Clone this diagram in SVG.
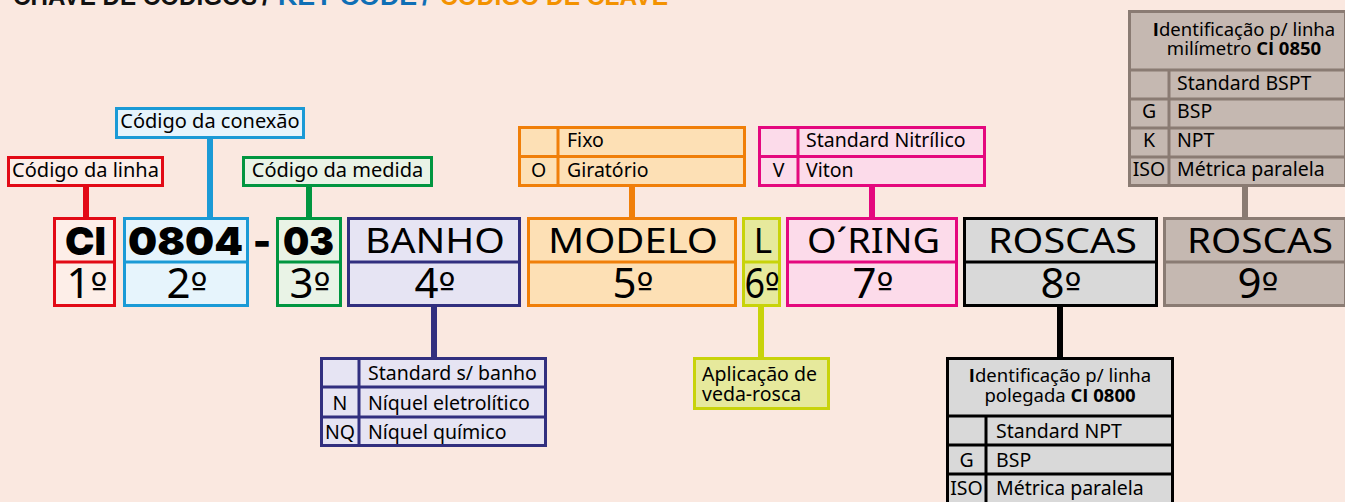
<svg xmlns="http://www.w3.org/2000/svg" width="1345" height="502" viewBox="0 0 1345 502">
<style>
.sm{font-family:"Noto Sans","Open Sans",sans-serif;font-size:19.5px;fill:#000}
.hd{font-family:"Noto Sans","Open Sans",sans-serif;font-size:18.5px;fill:#000}
.lb{font-family:"Noto Sans","Open Sans",sans-serif;font-size:20px;fill:#000}
.big{font-family:"Noto Sans","Open Sans",sans-serif;font-size:35px;fill:#000}
.num{font-family:"Noto Sans","Open Sans",sans-serif;font-size:42px;fill:#000}
.o{font-family:"DejaVu Sans","Liberation Sans",sans-serif;font-size:36px}
.hv{font-family:Inter,Lato,"Open Sans",sans-serif;font-weight:900;font-size:39px;fill:#000}
.ttl{font-family:"Liberation Sans",Arial,sans-serif;font-weight:bold;font-size:26px}
.c{text-anchor:middle}
.b{font-family:"Open Sans","Noto Sans",sans-serif;font-weight:bold}
rect,line{stroke-width:3}
.red{stroke:#e20a16}.blu{stroke:#1a9ad6}.grn{stroke:#009640}.pur{stroke:#312f7f}.org{stroke:#f07f09}.lim{stroke:#c8d30a}.mag{stroke:#e4087e}.blk{stroke:#000}.brn{stroke:#8a7b73}
.con line{stroke-width:6}
</style>
<rect x="0" y="0" width="1345" height="502" fill="#fae8e0" stroke="none"/>

<g id="title">
<text class="ttl" x="13" y="5" fill="#111" textLength="244" lengthAdjust="spacingAndGlyphs">CHAVE DE CÓDIGOS</text>
<text class="ttl" x="262" y="5" fill="#111">/</text>
<text class="ttl" x="278" y="5" fill="#0f6fb5" textLength="139" lengthAdjust="spacingAndGlyphs">KEY CODE</text>
<text class="ttl" x="422" y="5" fill="#0f6fb5">/</text>
<text class="ttl" x="440" y="5" fill="#f39200" textLength="228" lengthAdjust="spacingAndGlyphs">CÓDIGO DE CLAVE</text>
</g>

<g id="connectors" class="con">
<line class="red" x1="86" y1="187" x2="86" y2="217"/>
<line class="blu" x1="210" y1="139" x2="210" y2="217"/>
<line class="grn" x1="309" y1="187" x2="309" y2="217"/>
<line class="org" x1="632" y1="187" x2="632" y2="217"/>
<line class="mag" x1="872" y1="187" x2="872" y2="217"/>
<line class="brn" x1="1245" y1="187" x2="1245" y2="217"/>
<line class="pur" x1="434" y1="307" x2="434" y2="357"/>
<line class="lim" x1="761" y1="307" x2="761" y2="357"/>
<line class="blk" x1="1060" y1="307" x2="1060" y2="357"/>
</g>

<g id="label-linha">
<rect class="red" x="8.5" y="157.5" width="154" height="28" fill="#fdeee8"/>
<text class="lb c" x="85.5" y="177">Código da linha</text>
</g>
<g id="label-conexao">
<rect class="blu" x="116.5" y="108.5" width="187" height="29" fill="#e6f4fc"/>
<text class="lb c" x="210" y="128">Código da conexão</text>
</g>
<g id="label-medida">
<rect class="grn" x="243.5" y="157.5" width="188" height="28" fill="#e9f3e6"/>
<text class="lb c" x="337.5" y="177">Código da medida</text>
</g>

<g id="box-ci">
<rect class="red" x="54.5" y="218.5" width="60" height="87" fill="#fdeee8"/>
<line class="red" x1="54.5" y1="262" x2="114.5" y2="262"/>
<text class="hv c" x="85.5" y="255" textLength="41" lengthAdjust="spacingAndGlyphs">CI</text>
<text class="num c" x="87" y="298">1<tspan class="o">º</tspan></text>
</g>
<g id="box-conexao">
<rect class="blu" x="124.5" y="218.5" width="123" height="87" fill="#e6f4fc"/>
<line class="blu" x1="124.5" y1="262" x2="247.5" y2="262"/>
<text class="hv c" x="185.5" y="255" textLength="115" lengthAdjust="spacingAndGlyphs">0804</text>
<text class="num c" x="187" y="298">2<tspan class="o">º</tspan></text>
</g>
<text id="dash" class="hv c" x="262" y="255">-</text>
<g id="box-medida">
<rect class="grn" x="277.5" y="218.5" width="63" height="87" fill="#e9f3e6"/>
<line class="grn" x1="277.5" y1="262" x2="340.5" y2="262"/>
<text class="hv c" x="308.5" y="255" textLength="51" lengthAdjust="spacingAndGlyphs">03</text>
<text class="num c" x="310" y="298">3<tspan class="o">º</tspan></text>
</g>
<g id="box-banho">
<rect class="pur" x="348.5" y="218.5" width="171" height="87" fill="#e6e4f3"/>
<line class="pur" x1="348.5" y1="262" x2="519.5" y2="262"/>
<text class="big c" x="435" y="253" textLength="140" lengthAdjust="spacingAndGlyphs">BANHO</text>
<text class="num c" x="435" y="298">4<tspan class="o">º</tspan></text>
</g>
<g id="box-modelo">
<rect class="org" x="528.5" y="218.5" width="207" height="87" fill="#fde0b5"/>
<line class="org" x1="528.5" y1="262" x2="735.5" y2="262"/>
<text class="big c" x="633" y="253" textLength="170" lengthAdjust="spacingAndGlyphs">MODELO</text>
<text class="num c" x="633" y="298">5<tspan class="o">º</tspan></text>
</g>
<g id="box-l">
<rect class="lim" x="743.5" y="218.5" width="36" height="87" fill="#e6e99c"/>
<line class="lim" x1="743.5" y1="262" x2="779.5" y2="262"/>
<text class="big c" x="763" y="253">L</text>
<text class="num c" x="762" y="298" textLength="35" lengthAdjust="spacingAndGlyphs">6<tspan class="o">º</tspan></text>
</g>
<g id="box-oring">
<rect class="mag" x="787.5" y="218.5" width="169" height="87" fill="#fcdbea"/>
<line class="mag" x1="787.5" y1="262" x2="956.5" y2="262"/>
<text class="big c" x="873.5" y="253" textLength="133" lengthAdjust="spacingAndGlyphs">O´RING</text>
<text class="num c" x="873" y="298">7<tspan class="o">º</tspan></text>
</g>
<g id="box-roscas8">
<rect class="blk" x="964.5" y="218.5" width="192" height="87" fill="#d9d9d9"/>
<line class="blk" x1="964.5" y1="262" x2="1156.5" y2="262"/>
<text class="big c" x="1062.5" y="253" textLength="149" lengthAdjust="spacingAndGlyphs">ROSCAS</text>
<text class="num c" x="1061" y="298">8<tspan class="o">º</tspan></text>
</g>
<g id="box-roscas9">
<rect class="brn" x="1164.5" y="218.5" width="181" height="87" fill="#c5b8b1"/>
<line class="brn" x1="1164.5" y1="262" x2="1345.5" y2="262"/>
<text class="big c" x="1260" y="253" textLength="146" lengthAdjust="spacingAndGlyphs">ROSCAS</text>
<text class="num c" x="1258" y="298">9<tspan class="o">º</tspan></text>
</g>

<g id="table-modelo">
<rect class="org" x="519.5" y="127.5" width="225" height="58" fill="#fde0b5"/>
<line class="org" x1="519.5" y1="156.5" x2="744.5" y2="156.5"/>
<line class="org" x1="558" y1="127.5" x2="558" y2="185.5"/>
<text class="sm" x="567" y="147">Fixo</text>
<text class="sm c" x="538.5" y="177">O</text>
<text class="sm" x="567" y="177">Giratório</text>
</g>
<g id="table-oring">
<rect class="mag" x="759.5" y="127.5" width="225" height="58" fill="#fcdbea"/>
<line class="mag" x1="759.5" y1="156.5" x2="984.5" y2="156.5"/>
<line class="mag" x1="798" y1="127.5" x2="798" y2="185.5"/>
<text class="sm" x="806" y="147">Standard Nitrílico</text>
<text class="sm c" x="778.5" y="177">V</text>
<text class="sm" x="806" y="177">Viton</text>
</g>
<g id="table-roscas9">
<rect class="brn" x="1129.5" y="11.5" width="216" height="174" fill="#c5b8b1"/>
<line class="brn" x1="1129.5" y1="70" x2="1345.5" y2="70"/>
<line class="brn" x1="1129.5" y1="99" x2="1345.5" y2="99"/>
<line class="brn" x1="1129.5" y1="128" x2="1345.5" y2="128"/>
<line class="brn" x1="1129.5" y1="157" x2="1345.5" y2="157"/>
<line class="brn" x1="1169" y1="70" x2="1169" y2="185.5"/>
<text class="hd c" x="1244" y="36"><tspan class="b">I</tspan>dentificação p/ linha</text>
<text class="hd c" x="1244" y="55">milímetro <tspan class="b">CI 0850</tspan></text>
<text class="sm" x="1177" y="90">Standard BSPT</text>
<text class="sm c" x="1149" y="118">G</text>
<text class="sm" x="1177" y="118">BSP</text>
<text class="sm c" x="1149" y="147">K</text>
<text class="sm" x="1177" y="147">NPT</text>
<text class="sm c" x="1149" y="176">ISO</text>
<text class="sm" x="1177" y="176">Métrica paralela</text>
</g>
<g id="table-banho">
<rect class="pur" x="321.5" y="358.5" width="224" height="87" fill="#e6e4f3"/>
<line class="pur" x1="321.5" y1="387" x2="545.5" y2="387"/>
<line class="pur" x1="321.5" y1="417" x2="545.5" y2="417"/>
<line class="pur" x1="359" y1="358.5" x2="359" y2="445.5"/>
<text class="sm" x="368" y="380">Standard s/ banho</text>
<text class="sm c" x="340" y="410">N</text>
<text class="sm" x="368" y="410">Níquel eletrolítico</text>
<text class="sm c" x="340" y="439">NQ</text>
<text class="sm" x="368" y="439">Níquel químico</text>
</g>
<g id="label-aplicacao">
<rect class="lim" x="694.5" y="358.5" width="134" height="50" fill="#e6e99c"/>
<text class="sm" x="702" y="381">Aplicação de</text>
<text class="sm" x="702" y="401">veda-rosca</text>
</g>
<g id="table-roscas8">
<rect class="blk" x="947.5" y="358.5" width="225" height="160" fill="#d9d9d9"/>
<line class="blk" x1="947.5" y1="416" x2="1172.5" y2="416"/>
<line class="blk" x1="947.5" y1="445" x2="1172.5" y2="445"/>
<line class="blk" x1="947.5" y1="474" x2="1172.5" y2="474"/>
<line class="blk" x1="986" y1="416" x2="986" y2="510"/>
<text class="hd c" x="1060" y="382"><tspan class="b">I</tspan>dentificação p/ linha</text>
<text class="hd c" x="1060" y="402">polegada <tspan class="b">CI 0800</tspan></text>
<text class="sm" x="996" y="438">Standard NPT</text>
<text class="sm c" x="966.5" y="467">G</text>
<text class="sm" x="996" y="467">BSP</text>
<text class="sm c" x="966.5" y="495">ISO</text>
<text class="sm" x="996" y="495">Métrica paralela</text>
</g>
</svg>
